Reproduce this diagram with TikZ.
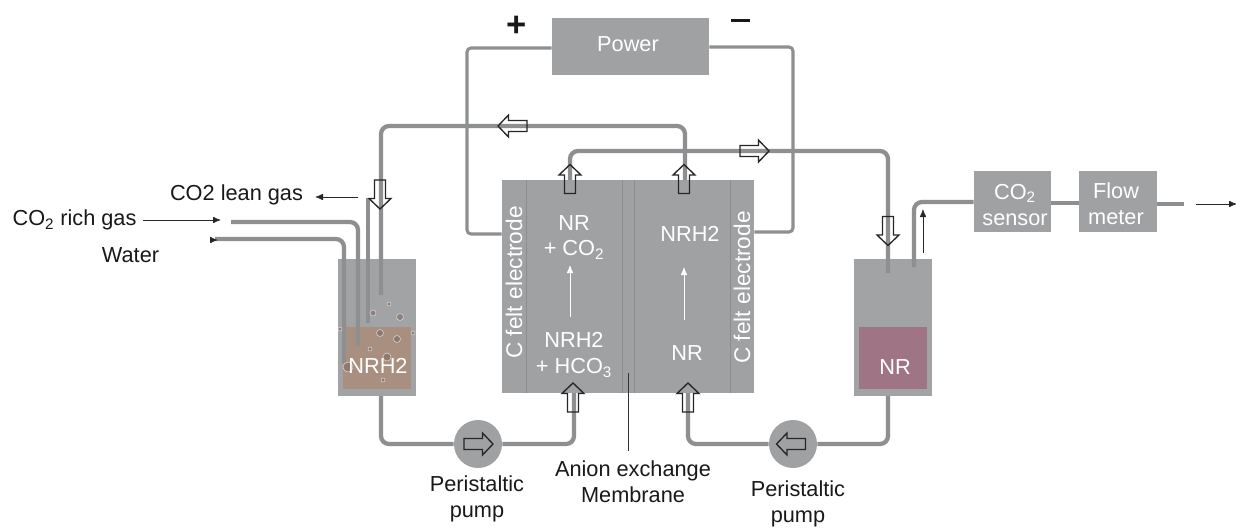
\documentclass[tikz,border=0pt]{standalone}
\usepackage{fontspec}
\setmainfont{Liberation Sans}
\usetikzlibrary{arrows.meta}
\definecolor{boxgray}{HTML}{A0A1A3}
\definecolor{tankgray}{HTML}{A2A3A4}
\definecolor{pipegray}{HTML}{8E8F90}
\definecolor{brownliq}{HTML}{A98F80}
\definecolor{redliq}{HTML}{9F7585}
\definecolor{edgegray}{HTML}{8C8D8F}
\tikzset{
  x=0.75pt,y=-0.75pt,
  txt/.style={font=\fontsize{16.3}{19.5}\selectfont,inner sep=0pt,align=center,text=black!90},
  wtxt/.style={txt,text=white},
  tank/.style={fill=tankgray,inner sep=0pt,minimum width=78*0.75pt,minimum height=137*0.75pt},
  liquid/.style={fill=#1,inner sep=0pt,minimum width=68*0.75pt,minimum height=62*0.75pt},
  pump/.style={circle,fill=boxgray,inner sep=0pt,minimum size=48*0.75pt},
  pipe/.style={draw=pipegray,line width=3.2pt,rounded corners=6pt,line cap=butt},
  wire/.style={draw=pipegray,line width=2.3pt,rounded corners=3pt},
  thin arrow/.style={draw=#1,fill=#1,line width=0.6pt,-{Latex[length=6pt,width=5pt]}},
  blockarrow/.pic={
    \draw[line width=1pt,black!85] (-14.5,-5.5) -- (4,-5.5) -- (4,-11) -- (14.5,0) -- (4,11) -- (4,5.5) -- (-14.5,5.5) -- cycle;
  },
  bubble/.style={draw=white!85!black,line width=0.4pt,fill=black!25!brownliq,fill opacity=0.6},
}
\begin{document}
\begin{tikzpicture}
\useasboundingbox (0,0) rectangle (1236,529);
\fill[white] (0,0) rectangle (1236,529);
% equipment
\node[fill=boxgray,inner sep=0pt,minimum width=157*0.75pt,minimum height=57*0.75pt] (power) at (630.5,46.5) {};
\node[fill=boxgray,inner sep=0pt,minimum width=252*0.75pt,minimum height=213*0.75pt] (cell) at (628,286.5) {};
\draw[edgegray,line width=0.7pt] (526,180) -- (526,393) (622,180) -- (622,393) (634,180) -- (634,393) (730,180) -- (730,393);
\node[tank] (tankL) at (377,327.5) {};
\node[liquid=brownliq] (liqL) at (377,358) {};
\node[tank] (tankR) at (892.5,327.5) {};
\node[liquid=redliq] (liqR) at (893,358) {};
\node[fill=boxgray,inner sep=0pt,minimum width=77*0.75pt,minimum height=61*0.75pt] (sensor) at (1012.5,201.5) {};
\node[fill=boxgray,inner sep=0pt,minimum width=78*0.75pt,minimum height=61*0.75pt] (flow) at (1118,201.5) {};
\node[pump] (pumpL) at (478,444) {};
\node[pump] (pumpR) at (793,444) {};
% free ends of the connectors
\coordinate (feedOut) at (381,295);
\coordinate (rich) at (231,222);
\coordinate (richEnd) at (358,346);
\coordinate (water) at (215,239);
\coordinate (waterEnd) at (344,363);
\coordinate (lean) at (368,198);
\coordinate (leanEnd) at (368,323);
\coordinate (anOut) at (685,180);
\coordinate (anOutTop) at (685,126);
\coordinate (caOut) at (570,180);
\coordinate (caOutTop) at (570,151);
\coordinate (inR) at (888,273);
\coordinate (outR) at (914,267);
\coordinate (vent) at (1184,204);
\coordinate (ventA) at (1196,204);
\coordinate (ventB) at (1237,204);
% pipes
\draw[pipe] (anOut) -- (anOutTop) -- (381,126) -- (feedOut);
\draw[pipe] (caOut) -- (caOutTop) -- (888,151) -- (inR);
\draw[pipe] (rich) -- (358,222) -- (richEnd);
\draw[pipe] (water) -- (344,239) -- (waterEnd);
\draw[pipe] (lean) -- (leanEnd);
\draw[pipe] (381,396) |- (pumpL.west);
\draw[pipe] (pumpL.east) -| (574,393);
\draw[pipe] (pumpR.west) -| (688,393);
\draw[pipe] (888,396) |- (pumpR.east);
\draw[pipe] (outR) |- (sensor.west |- 0,202);
\draw[pipe] (sensor.east |- 0,203) -- (flow.west |- 0,203);
\draw[pipe] (flow.east |- 0,204) -- (vent);
\draw[wire] (power.west |- 0,48) -- (467,48) -- (467,234) -- (cell.west |- 0,234);
\draw[wire] (power.east |- 0,47) -- (793,47) -- (793,232) -- (cell.east |- 0,232);
% bubbles
\foreach \bx/\by/\br in {373/313/3,389/304/2,400/317/3.5,380/333/3.5,397/339/3.5,370/349/2,387/357/4,348/367/5,383/380/2,413/333/2,340/329/2}
  \draw[bubble] (\bx,\by) circle[radius=\br*0.75pt];
% block arrows
\pic[rotate=180] at (512.5,126) {blockarrow};
\pic at (754.5,151) {blockarrow};
\pic[rotate=90] at (570,179) {blockarrow};
\pic[rotate=90] at (684,179) {blockarrow};
\pic[rotate=90] at (573,397.5) {blockarrow};
\pic[rotate=90] at (688,397.5) {blockarrow};
\pic[rotate=-90] at (380,194.5) {blockarrow};
\pic[rotate=-90] at (888,231) {blockarrow};
\pic at (478.5,444) {blockarrow};
\pic[rotate=180] at (791,444) {blockarrow};
% thin flow arrows
\coordinate (richA) at (143,220);
\coordinate (richB) at (221,220);
\coordinate (leanA) at (358,197);
\coordinate (leanB) at (315,197);
\coordinate (waterTip) at (218,240);
\coordinate (waterTail) at (211,240);
\coordinate (upA) at (923,253);
\coordinate (upB) at (923,209);
\coordinate (memA) at (628,373);
\coordinate (memB) at (628,451);
\coordinate (cellAL) at (570,317);
\coordinate (cellBL) at (570,265);
\coordinate (cellAR) at (684,320);
\coordinate (cellBR) at (684,267);
\draw[thin arrow=black!85] (richA) -- (richB);
\draw[thin arrow=black!85] (leanA) -- (leanB);
\draw[thin arrow=black!85] (waterTail) -- (waterTip);
\draw[thin arrow=black!85] (upA) -- (upB);
\draw[thin arrow=black!85] (ventA) -- (ventB);
\draw[black!80,line width=0.7pt] (memA) -- (memB);
\draw[thin arrow=white] (cellAL) -- (cellBL);
\draw[thin arrow=white] (cellAR) -- (cellBR);
% labels
\node[wtxt] (lPower) at (628,44) {Power};
\node[txt,font=\bfseries\fontsize{26}{26}\selectfont] (lPlus) at (517,26) {+};
\fill[black!90] (731,18.5) rectangle (749.5,22) coordinate (lMinus);
\node[txt] (lLean) at (236.5,195) {CO2 lean gas};
\node[txt] (lRich) at (74.5,220) {CO\textsubscript{2} rich gas};
\node[txt] (lWater) at (130.5,255) {Water};
\node[wtxt] (t1) at (574,223) {NR};
\node[wtxt] (t2) at (574,250) {+ CO\textsubscript{2}};
\node[wtxt] (t3) at (574,340) {NRH2};
\node[wtxt] (t4) at (574,368) {+ HCO\textsubscript{3}};
\node[wtxt] (t5) at (690,234) {NRH2};
\node[wtxt] (t6) at (687,353) {NR};
\node[wtxt,rotate=90,font=\fontsize{17}{20}\selectfont] (t7) at (514,282.5) {C felt electrode};
\node[wtxt,rotate=90,font=\fontsize{17}{20}\selectfont] (t8) at (742,287.5) {C felt electrode};
\node[wtxt] (t9) at (378,366) {NRH2};
\node[wtxt] (t10) at (895,367) {NR};
\node[wtxt] (t11) at (1015,205) {CO\textsubscript{2}\\sensor};
\node[wtxt] (t12) at (1116,204) {Flow\\meter};
\node[txt] (p1) at (477,498.5) {Peristaltic\\pump};
\node[txt] (p2) at (798,504) {Peristaltic\\pump};
\node[txt] (m1) at (633,482) {Anion exchange\\Membrane};
\end{tikzpicture}
\end{document}
